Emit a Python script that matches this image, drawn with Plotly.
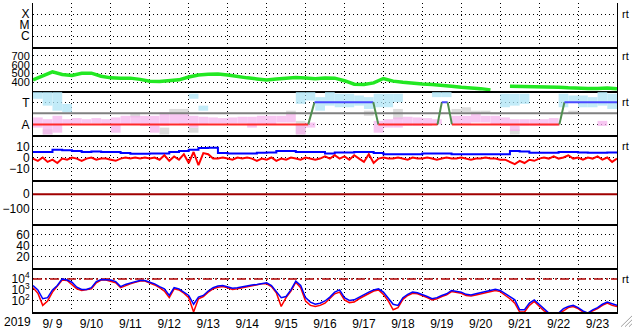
import plotly.graph_objects as go
import pandas as pd

# ---------------- data ----------------
START = pd.Timestamp("2019-09-09")
END = pd.Timestamp("2019-09-24")

# solar wind speed (km/s), every 6 h from 9/9 00UT
speed = [430, 470, 520, 490, 480, 505, 505, 470, 452, 449, 449, 435, 415, 410, 418, 430,
         462, 485, 492, 496, 485, 465, 452, 440, 427, 440, 450, 456, 450, 441, 450, 449,
         420, 380, 378, 395, 445, 415, 402, 390, 382, 378, 372, 358, 347, 340, 330, 316,
         None, 356, 356, 350, 347, 347, 347, 340, 333, 331, 331, 337, 328]

# IMF sector (T=+1 / A=-1), change points in days from start
sector_day = [0, 7.07, 7.23, 8.74, 8.87, 10.39, 10.50, 10.65, 10.76, 13.52, 13.65, 15]
sector_val = [-1, -1, 1, 1, -1, -1, 1, 1, -1, -1, 1, 1]

# IMF angle scatter ranges per 6 h bin (hi, lo); None = no points
pink_hi = [-0.37, -0.53, -0.22, -0.53, -0.43, -0.53, -0.43, -0.53, -0.37, -0.22, -0.22, -0.22,
           -0.22, 0.09, -0.06, -0.06, -0.22, -0.31, -0.37, -0.43, -0.37, -0.31, -0.31, -0.22,
           -0.22, -0.22, -0.06, -0.99, -0.83, None, None, None, None, None, None, -0.68,
           -0.53, -0.37, -0.31, -0.37, -0.43, -0.53, None, -0.22, -0.22, -0.06, -0.22, -0.22,
           -0.37, -0.53, -0.53, -0.53, -0.53, -0.43, None, None, None, None, -0.68, None]
pink_lo = [-1.29, -1.91, -1.75, -0.99, -0.99, -0.93, -0.93, -0.99, -1.75, -0.99, -0.99, -1.14,
           -1.75, -1.14, -0.93, -0.99, -1.29, -0.99, -0.93, -0.93, -0.93, -0.93, -1.29, -0.99,
           -0.99, -0.83, -0.83, -1.91, -1.29, None, None, None, None, None, None, -1.75,
           -1.29, -1.29, -1.14, -1.14, -1.14, -0.99, None, -0.99, -0.99, -0.83, -0.83, -0.99,
           -1.14, -1.60, -1.14, -1.14, -1.14, -1.14, None, None, None, None, -1.14, None]
cyan_hi = [1.94, 1.94, 1.94, 0.86, None, None, None, None, None, None, None, None,
           None, None, None, None, 1.78, 0.70, None, None, None, None, None, None,
           None, None, None, 1.94, 1.94, 1.47, 1.94, 1.78, 1.78, 1.62, 1.47, 1.78,
           1.78, 1.78, None, None, None, 1.94, 1.94, None, None, None, None, None,
           1.78, 1.78, 1.78, None, None, None, 1.78, 1.62, 1.62, 1.47, 1.94, 1.78]
cyan_lo = [1.32, 0.70, 0.24, 0.09, None, None, None, None, None, None, None, None,
           None, None, None, None, 1.32, 0.24, None, None, None, None, None, None,
           None, None, None, 0.86, 1.16, 0.24, 0.70, 0.55, 0.55, 0.70, 0.40, 0.55,
           0.55, 1.01, None, None, None, 1.47, 1.47, None, None, None, None, None,
           0.55, 0.70, 0.86, None, None, None, 0.55, 1.01, 0.55, 0.55, 0.70, 0.40]
gray_hi = [None, -1.45, None, None, None, None, None, None, None, None, -0.06, None,
           None, -1.29, 0.40, 0.40, -1.29, None, None, None, None, None, None, None,
           None, None, 0.24, -0.68, None, None, None, None, None, None, 0.24, None,
           None, 0.40, None, None, None, None, None, 0.40, 0.55, 0.24, 0.24, 0.09,
           None, -1.45, None, None, None, None, None, 0.24, None, None, None, None]
gray_lo = [None, -1.91, None, None, None, None, None, None, None, None, -0.37, None,
           None, -1.91, -0.06, -0.06, -1.75, None, None, None, None, None, None, None,
           None, None, -0.06, -1.91, None, None, None, None, None, None, -0.22, None,
           None, -0.53, None, None, None, None, None, 0.09, 0.09, -0.06, -0.06, -0.06,
           None, -1.91, None, None, None, None, None, -0.06, None, None, None, None]

# IMF |B| (nT), every 6 h
bt = [5, 5, 7, 6.5, 6, 5, 5.5, 5, 5, 4, 3.3, 3.5, 3.6, 3.6, 5, 6, 7, 8.5, 8.8, 4,
      3.6, 3.6, 3.6, 4.2, 4.5, 6, 6, 5, 5, 5, 3.6, 4.5, 4.5, 5, 5, 4, 3, 3, 3, 3,
      3.6, 3.6, 3.6, 3, 3, 3, 3, 3, 3, 6, 5.5, 4.2, 4.2, 4.2, 5, 5, 4.5, 4.2, 4.2, 4.5, 4.5]

# IMF Bz (nT), every 3 h
bz = [-1, -3, 0, -4, -2, -5, -1, -2,
      0, -1, -3, -1, 0, -2, -1, -1,
      -2, -3, -1, 0, -1, 0, -1, 0,
      -1, 0, -2, 2, -3, 1, -2, 3,
      -5, 5, -7, 4, 3, -1, -1, 0,
      -1, -2, 0, -1, 0, -1, -3, -1,
      -2, 0, -3, -1, -2, 0, -1, -2,
      0, -1, -2, -1, 1, -1, 2, -1,
      1, -2, 2, -1, -4, 3, -5, -1,
      0, -1, -1, 0, -1, -2, 0, -1,
      -1, 0, -1, -2, -1, 0, -1, -1,
      0, -1, -2, -1, -1, 0, -1, -1,
      -2, -2, -4, -6, -3, -5, -2, -3,
      -1, 0, -1, 1, -1, 0, 2, -1,
      0, -2, 0, -1, 1, -2, 0, -4,
      -1]

dst_ref = 0          # Dst reference level (nT)
flux_alert = 1e4     # electron flux threshold

# electron flux, log10, every 3 h
flux_red_log = [3.2, 2.7, 1.6, 2.0, 2.8, 3.3, 3.9, 3.85,
                3.5, 3.1, 2.95, 3.0, 3.1, 3.65, 3.9, 3.9,
                3.8, 3.65, 3.2, 3.4, 3.55, 3.7, 3.8, 3.8,
                3.65, 3.45, 3.2, 2.9, 2.3, 3.1, 3.0, 2.7,
                2.3, 1.0, 2.2, 2.4, 2.8, 3.1, 3.25, 3.3,
                3.2, 3.05, 3.1, 3.2, 3.3, 3.4, 3.45, 3.55,
                3.55, 3.3, 2.75, 1.5, 2.3, 2.9, 3.7, 3.2,
                2.0, 1.6, 1.5, 1.6, 1.8, 2.2, 2.65, 2.8,
                2.1, 1.85, 1.9, 2.2, 2.45, 2.7, 2.9, 3.0,
                2.6, 2.0, 1.2, 1.4, 2.15, 2.5, 2.7, 2.65,
                2.5, 2.3, 2.1, 2.2, 2.4, 2.55, 2.85, 2.75,
                2.7, 2.5, 2.45, 2.55, 2.65, 2.75, 2.9, 2.95,
                2.85, 2.55, 2.2, 1.8, 1.0, 1.0, 1.6, 1.95,
                1.5, 1.1, 0.9, 0.8, 0.9, 1.1, 1.4, 1.5,
                1.3, 1.0, 0.9, 1.1, 1.3, 1.6, 1.8, 1.6,
                1.5]
flux_blue_log = [3.4, 3.0, 2.2, 2.3, 3.0, 3.4, 4.0, 3.9,
                 3.7, 3.25, 3.05, 3.05, 3.2, 3.75, 3.95, 3.95,
                 3.9, 3.75, 3.3, 3.5, 3.65, 3.75, 3.85, 3.85,
                 3.7, 3.55, 3.3, 3.1, 2.5, 3.2, 3.1, 2.8,
                 2.5, 1.7, 2.35, 2.5, 2.9, 3.2, 3.35, 3.4,
                 3.3, 3.15, 3.2, 3.3, 3.35, 3.45, 3.5, 3.6,
                 3.65, 3.4, 2.9, 2.3, 2.4, 3.0, 3.8, 3.4,
                 2.3, 1.9, 1.7, 1.8, 2.0, 2.35, 2.8, 3.0,
                 2.3, 2.05, 2.1, 2.35, 2.6, 2.8, 3.0, 3.1,
                 2.8, 2.2, 1.7, 1.6, 2.3, 2.6, 2.8, 2.75,
                 2.6, 2.4, 2.2, 2.3, 2.5, 2.65, 2.95, 2.85,
                 2.8, 2.6, 2.55, 2.65, 2.75, 2.85, 3.0, 3.05,
                 2.95, 2.7, 2.4, 2.1, 1.2, 1.2, 1.8, 2.1,
                 1.7, 1.3, 0.9, 0.9, 0.9, 1.3, 1.5, 1.6,
                 1.4, 1.1, 0.9, 1.2, 1.4, 1.7, 1.9, 1.75,
                 1.6]

# axis labels
xray_ticks = [1, 2, 3]; xray_text = ["C", "M", "X"]
speed_ticks = [400, 500, 600, 700]
sector_ticks = [-1, 1]; sector_text = ["A", "T"]
b_ticks = [-10, 0, 10]
dst_ticks = [-100, 0]
kp_ticks = [20, 40, 60]
flux_ticks = [1e2, 1e3, 1e4]; flux_text = ["10<sup>2</sup>", "10<sup>3</sup>", "10<sup>4</sup>"]

# ---------------- helpers ----------------
def tgrid(n, hours, offset=0.0):
    return [START + pd.Timedelta(hours=offset + hours * i) for i in range(n)]

def day(d):
    return START + pd.Timedelta(days=d)

FONT = "Liberation Sans, Arial, sans-serif"
fig = go.Figure()

# empty placeholders so that every panel is drawn
for n in ["", "6"]:
    fig.add_trace(go.Scatter(x=[START], y=[None], mode="lines", xaxis="x" + n, yaxis="y" + n,
                             hoverinfo="skip"))

# panel 2: speed
fig.add_trace(go.Scatter(x=tgrid(len(speed), 6), y=speed, mode="lines",
                         line=dict(color="#22e822", width=3.5), connectgaps=False,
                         xaxis="x2", yaxis="y2"))

# panel 3: scatter bars
def add_bars(hi, lo, color, op):
    cen = tgrid(len(hi), 6, 3)
    xs, ys, bs = [], [], []
    for c, h, l in zip(cen, hi, lo):
        if h is None:
            continue
        xs.append(c); ys.append(h - l); bs.append(l)
    fig.add_trace(go.Bar(x=xs, y=ys, base=bs, width=6 * 3600 * 1000, opacity=op,
                         marker=dict(color=color, line=dict(width=0)),
                         xaxis="x3", yaxis="y3"))

add_bars(gray_hi, gray_lo, "#d4d4d4", 0.8)
add_bars(pink_hi, pink_lo, "#f6b4ee", 0.75)
add_bars(cyan_hi, cyan_lo, "#aee4f6", 0.75)

fig.add_trace(go.Scatter(x=[START, END], y=[0, 0], mode="lines",
                         line=dict(color="#808080", width=2), xaxis="x3", yaxis="y3"))
for i in range(len(sector_day) - 1):
    a, b = sector_val[i], sector_val[i + 1]
    col = "#ff2a2a" if (a < 0 and b < 0) else ("#4a4aff" if (a > 0 and b > 0) else "#4f8f4f")
    fig.add_trace(go.Scatter(x=[day(sector_day[i]), day(sector_day[i + 1])], y=[a, b],
                             mode="lines", line=dict(color=col, width=2),
                             xaxis="x3", yaxis="y3"))

# panel 4: Bt / Bz
fig.add_trace(go.Scatter(x=tgrid(len(bt), 6), y=bt, mode="lines", line_shape="hv",
                         line=dict(color="#0000ff", width=2), xaxis="x4", yaxis="y4"))
fig.add_trace(go.Scatter(x=tgrid(len(bz), 3), y=bz, mode="lines",
                         line=dict(color="#ff0000", width=2), xaxis="x4", yaxis="y4"))

# panel 5: Dst reference
fig.add_trace(go.Scatter(x=[START, END], y=[dst_ref, dst_ref], mode="lines",
                         line=dict(color="#a00000", width=2), xaxis="x5", yaxis="y5"))

# panel 7: electron flux
fig.add_trace(go.Scatter(x=[START, END], y=[flux_alert, flux_alert], mode="lines",
                         line=dict(color="#b00000", width=1.5, dash="9px,3px,2px,3px"),
                         xaxis="x7", yaxis="y7"))
fig.add_trace(go.Scatter(x=tgrid(len(flux_red_log), 3), y=[10 ** v for v in flux_red_log],
                         mode="lines", line=dict(color="#ff0000", width=1.5),
                         xaxis="x7", yaxis="y7"))
fig.add_trace(go.Scatter(x=tgrid(len(flux_blue_log), 3), y=[10 ** v for v in flux_blue_log],
                         mode="lines", line=dict(color="#0000ff", width=1.5),
                         xaxis="x7", yaxis="y7"))

# ---------------- axes ----------------
GRID = dict(showgrid=True, gridcolor="black", griddash="1px,3px", gridwidth=1)
tickfont = dict(family=FONT, size=12, color="black")
layout = dict(width=633, height=334, margin=dict(l=33, r=16, t=3, b=16),
              plot_bgcolor="white", paper_bgcolor="white", showlegend=False,
              barmode="overlay", font=dict(family=FONT, size=12, color="black"))

yspecs = [
    dict(range=[0, 4], tickvals=xray_ticks, ticktext=xray_text),
    dict(range=[300, 800], tickvals=speed_ticks, tickfont=dict(family=FONT, size=11, color="black")),
    dict(range=[-2, 2], tickvals=sector_ticks, ticktext=sector_text),
    dict(range=[-20, 20], tickvals=b_ticks),
    dict(range=[-200, 100], tickvals=dst_ticks),
    dict(range=[0, 80], tickvals=kp_ticks),
    dict(type="log", range=[1, 5], tickvals=flux_ticks, ticktext=flux_text),
]
for k in range(7):
    n = "" if k == 0 else str(k + 1)
    dom = [1 - (k + 1) / 7, 1 - k / 7]
    xa = dict(type="date", range=[START, END], tick0=START, dtick=86400000,
              showticklabels=(k == 6), ticks="", showline=True, linecolor="black",
              linewidth=2, mirror=False, zeroline=False, anchor="y" + n,
              domain=[0, 1], tickfont=tickfont, **GRID)
    if k == 6:
        xa.update(ticklabelmode="period", tickformat="%-m/%e")
    ya = dict(domain=dom, anchor="x" + n, ticks="", showline=True, linecolor="black",
              linewidth=1, mirror=True, zeroline=False, tickfont=tickfont, **GRID)
    ya.update(yspecs[k])
    layout["xaxis" + n] = xa
    layout["yaxis" + n] = ya

fig.update_layout(**layout)

# annotations
fig.add_annotation(text="2019", xref="paper", yref="paper", x=0, y=0, xshift=-16,
                   yshift=-10, xanchor="center", yanchor="middle", showarrow=False,
                   font=dict(family=FONT, size=12, color="black"))
rt_pos = [("y", 3), ("y2", 700), ("y3", 1), ("y4", 10), ("y7", 4)]
for yr, v in rt_pos:
    fig.add_annotation(text="rt", xref="paper", yref=yr, x=1, y=v, xshift=3,
                       xanchor="left", yanchor="middle", showarrow=False,
                       font=dict(family=FONT, size=11, color="black"))

# window-corner grip
for off in [4, 8, 12]:
    fig.add_shape(type="line", xref="paper", yref="paper",
                  x0=(633 - off - 33) / 584, y0=(318 - 333) / 315,
                  x1=(632 - 33) / 584, y1=(318 - 334 + off) / 315,
                  line=dict(color="#a0a0a0", width=1))

fig.write_html("out.html")
